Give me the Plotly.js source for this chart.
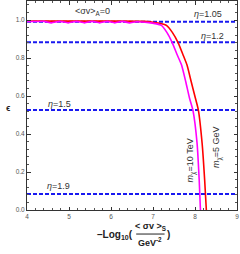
<!DOCTYPE html>
<html><head><meta charset="utf-8">
<script src="https://cdn.plot.ly/plotly-3.0.1.min.js"></script>
<style>html,body{margin:0;padding:0;background:#fff}#c{width:240px;height:254px}</style>
</head><body><div id="c"></div>
<script>
// data
var magentaX = [4.0, 4.2, 4.4, 4.58, 4.78, 4.98, 5.18, 5.37, 5.55, 5.73, 5.91, 6.09, 6.27, 6.44, 6.6, 6.9, 7.05, 7.20, 7.33, 7.46, 7.57, 7.68, 7.78, 7.87, 7.95, 8.05, 8.10, 8.13];
var magentaY = [0.993, 0.992, 0.993, 0.985, 0.993, 0.985, 0.993, 0.985, 0.993, 0.985, 0.993, 0.985, 0.993, 0.985, 0.991, 0.986, 0.981, 0.972, 0.935, 0.880, 0.820, 0.763, 0.675, 0.588, 0.526, 0.350, 0.158, 0.0];
var redX = [4.0, 5.0, 6.0, 6.8, 7.0, 7.18, 7.32, 7.46, 7.60, 7.71, 7.81, 7.91, 8.01, 8.08, 8.17, 8.23, 8.27];
var redY = [0.994, 0.994, 0.994, 0.993, 0.988, 0.982, 0.972, 0.935, 0.880, 0.820, 0.763, 0.675, 0.588, 0.526, 0.350, 0.158, 0.0];
var etaLabels = ['η=1.05', 'η=1.2', 'η=1.5', 'η=1.9'];
var etaValues = [0.991, 0.883, 0.526, 0.084];
var xRange = [4, 9];
var yRange = [0, 1.1];

var traces = [];
etaValues.forEach(function(v){
  traces.push({x: xRange, y: [v, v], mode: 'lines', line: {color: 'rgb(25,25,240)', width: 2, dash: '4px,2px'}, hoverinfo: 'skip'});
});
traces.push({x: redX, y: redY, mode: 'lines', line: {color: '#ff0000', width: 1.6, shape: 'spline', smoothing: 0.5}});
traces.push({x: magentaX, y: magentaY, mode: 'lines', line: {color: '#ff00ff', width: 1.6, shape: 'spline', smoothing: 0.5}});

var ff = 'Liberation Sans, Arial, sans-serif';
var tf = {family: ff, size: 6.5, color: '#555'};
var af = {family: ff, size: 9, color: '#333'};
var ann = [
  {x: 5.56, y: 1.045, text: '&lt;σv&gt;<sub>A</sub>=0', showarrow: false, font: af},
  {x: 8.3, y: 1.03, text: '<i>η</i>=1.05', showarrow: false, font: af},
  {x: 8.42, y: 0.915, text: '<i>η</i>=1.2', showarrow: false, font: af},
  {x: 4.78, y: 0.56, text: '<i>η</i>=1.5', showarrow: false, font: af},
  {x: 4.76, y: 0.125, text: '<i>η</i>=1.9', showarrow: false, font: af},
  {x: 7.9, y: 0.26, text: '<i>m</i><sub>χ</sub>=10 TeV', showarrow: false, font: af, textangle: -90},
  {x: 8.54, y: 0.33, text: '<i>m</i><sub>χ</sub>=5 GeV', showarrow: false, font: af, textangle: -90},
  {xref: 'paper', yref: 'paper', x: -0.09, y: 0.49, text: '<b>ϵ</b>', showarrow: false, xanchor: 'center', yanchor: 'middle', font: {family: ff, size: 9, color: '#222'}},
  {xref: 'paper', yref: 'paper', x: 0.515, y: -0.118, text: '<b>–Log<sub>10</sub>(</b>', showarrow: false, font: {family: ff, size: 10, color: '#222'}, xanchor: 'right', yanchor: 'middle'},
  {xref: 'paper', yref: 'paper', x: 0.587, y: -0.08, text: '<b>&lt; σv &gt;<sub>S</sub></b>', showarrow: false, xanchor: 'center', yanchor: 'middle', font: {family: ff, size: 9, color: '#222'}},
  {xref: 'paper', yref: 'paper', x: 0.587, y: -0.152, text: '<b>GeV<sup>-2</sup></b>', showarrow: false, xanchor: 'center', yanchor: 'middle', font: {family: ff, size: 9, color: '#222'}},
  {xref: 'paper', yref: 'paper', x: 0.655, y: -0.118, text: '<b>)</b>', showarrow: false, font: {family: ff, size: 10, color: '#222'}, xanchor: 'left', yanchor: 'middle'}
];
var shapes = [{type: 'line', xref: 'paper', yref: 'paper', x0: 0.52, x1: 0.655, y0: -0.115, y1: -0.115, line: {color: '#222', width: 1}}];

var layout = {
  width: 240, height: 254,
  margin: {l: 27, r: 3, t: 1, b: 44},
  showlegend: false,
  paper_bgcolor: '#fff', plot_bgcolor: '#fff',
  xaxis: {range: xRange, dtick: 1, tick0: 4, ticks: 'inside', ticklen: 3.5, tickcolor: '#333', mirror: 'ticks', showline: true, linecolor: '#333', linewidth: 1, showgrid: false, zeroline: false, tickfont: tf,
    minor: {dtick: 0.2, ticks: 'inside', ticklen: 2, tickcolor: '#555', showgrid: false}},
  yaxis: {range: yRange, dtick: 0.2, tick0: 0, ticks: 'inside', ticklen: 3.5, tickcolor: '#333', mirror: 'ticks', showline: true, linecolor: '#333', linewidth: 1, showgrid: false, zeroline: false, tickfont: tf, tickformat: '.1f',
    minor: {dtick: 0.04, ticks: 'inside', ticklen: 2, tickcolor: '#555', showgrid: false}},
  annotations: ann,
  shapes: shapes
};
Plotly.newPlot('c', traces, layout, {staticPlot: true, displayModeBar: false});
</script></body></html>
